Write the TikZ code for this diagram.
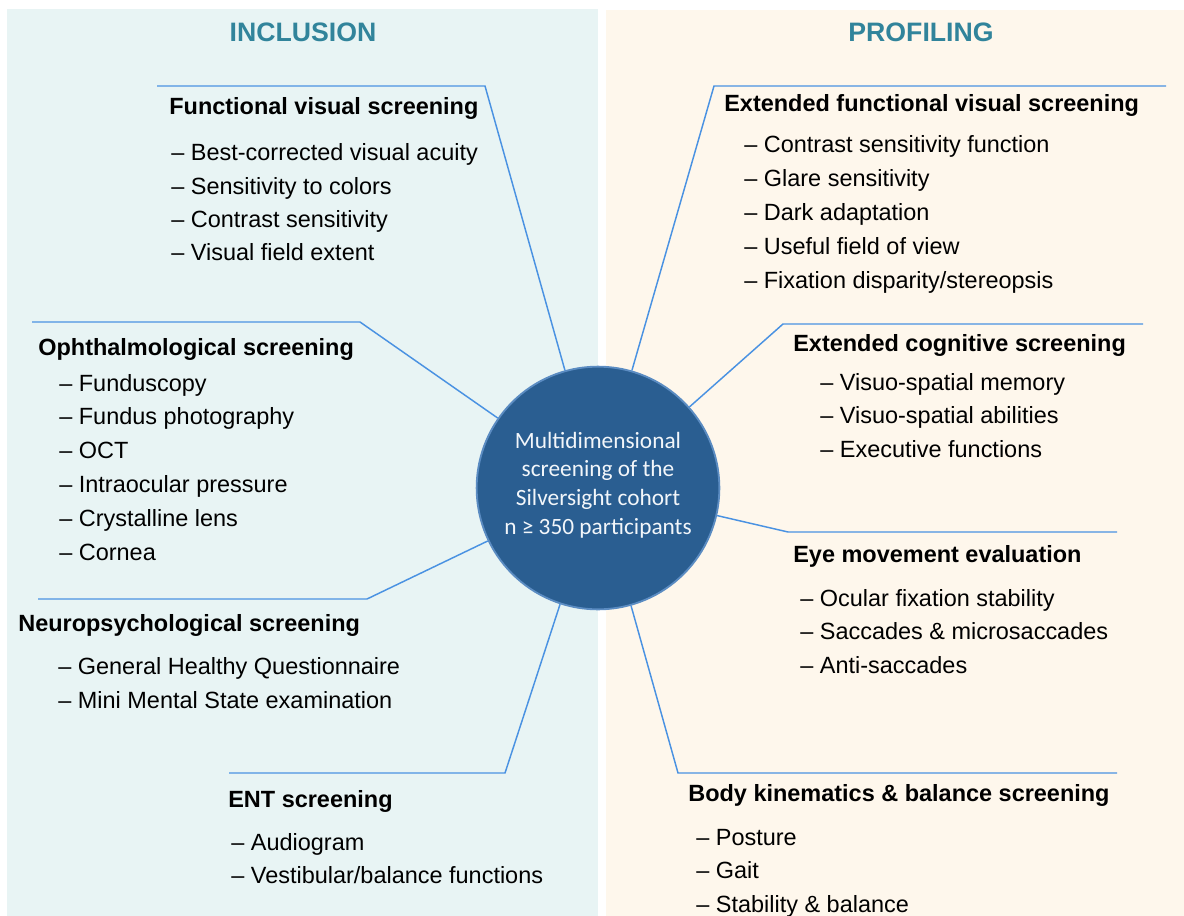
\documentclass[tikz,border=0pt]{standalone}
\usepackage{fontspec}
\setmainfont{Liberation Sans}
\newfontfamily\hubfont{Carlito}
\definecolor{leftbg}{HTML}{E8F4F4}
\definecolor{rightbg}{HTML}{FEF7EC}
\definecolor{titleblue}{HTML}{31849B}
\definecolor{linkblue}{HTML}{4A92E2}
\definecolor{hubblue}{HTML}{2A5E91}
\definecolor{hubedge}{HTML}{5B8CC2}
\definecolor{hubtext}{HTML}{F2F6FA}

\begin{document}
\begin{tikzpicture}[x=0.75pt,y=-0.75pt,line width=0.5pt,
	head/.style={anchor=base west,inner sep=0,font=\fontsize{17.6}{20}\selectfont\bfseries},
	item/.style={anchor=base west,inner sep=0,font=\fontsize{17.6}{20}\selectfont},
	title/.style={inner sep=0,font=\fontsize{20}{24}\selectfont\bfseries,text=titleblue},
	hub/.style={circle,fill=hubblue,draw=hubedge,line width=1.4pt,minimum size=182pt,inner sep=0},
	hubtxt/.style={inner sep=0,text=hubtext,align=center,font=\hubfont\fontsize{17.5}{21.4}\selectfont},
	link/.style={draw=linkblue,line width=1.1pt}]
\useasboundingbox (0,0) rectangle (1184,916);
\fill[white] (0,0) rectangle (1184,916);
\fill[leftbg] (7,9) rectangle (598,916);
\fill[rightbg] (606,10) rectangle (1184,916);

\node[title] (incl) at (303,32) {INCLUSION};
\node[title] (prof) at (921,32) {PROFILING};

% elbows and free ends of the branches
\coordinate (fvk) at (485,86);   \coordinate (fve) at (157,86);
\coordinate (ophk) at (360,322); \coordinate (ophe) at (32,322);
\coordinate (neuk) at (367,599); \coordinate (neue) at (38,599);
\coordinate (entk) at (505,773); \coordinate (ente) at (229,773);
\coordinate (efvk) at (714,86);  \coordinate (efve) at (1166,86);
\coordinate (cogk) at (783,324); \coordinate (coge) at (1143,324);
\coordinate (eyek) at (788,532); \coordinate (eyee) at (1117,532);
\coordinate (bodk) at (678,773); \coordinate (bode) at (1117,773);

\node[hub] (hub) at (598,488) {};
\node[hubtxt] (hubt) at (598,485) {Multidimensional\\screening of the\\Silversight cohort\\n ≥ 350 participants};

\foreach \k in {fv,oph,neu,ent,efv,cog,eye,bod}
	\draw[link] (hub) -- (\k k) -- (\k e);

% inclusion
\node[head] (fv) at (169,115) {Functional visual screening};
\foreach \t [count=\k] in {Best-corrected visual acuity,Sensitivity to colors,Contrast sensitivity,Visual field extent}
	\node[item] (fv\k) at (171,127.7+\k*33.3) {– \t};

\node[head] (oph) at (38,355) {Ophthalmological screening};
\foreach \t [count=\k] in {Funduscopy,Fundus photography,OCT,Intraocular pressure,Crystalline lens,Cornea}
	\node[item] (oph\k) at (59,357.2+\k*33.8) {– \t};

\node[head] (neu) at (18,631) {Neuropsychological screening};
\foreach \t [count=\k] in {General Healthy Questionnaire,Mini Mental State examination}
	\node[item] (neu\k) at (58,640+\k*34) {– \t};

\node[head] (ent) at (228,807) {ENT screening};
\foreach \t [count=\k] in {Audiogram,Vestibular/balance functions}
	\node[item] (ent\k) at (231,817+\k*33) {– \t};

% profiling
\node[head] (efv) at (724,112) {Extended functional visual screening};
\foreach \t [count=\k] in {Contrast sensitivity function,Glare sensitivity,Dark adaptation,Useful field of view,Fixation disparity/stereopsis}
	\node[item] (efv\k) at (744,119.25+\k*33.75) {– \t};

\node[head] (cog) at (793,351) {Extended cognitive screening};
\foreach \t [count=\k] in {Visuo-spatial memory,Visuo-spatial abilities,Executive functions}
	\node[item] (cog\k) at (820,356.5+\k*33.5) {– \t};

\node[head] (eye) at (793,562) {Eye movement evaluation};
\foreach \t [count=\k] in {Ocular fixation stability,Saccades \& microsaccades,Anti-saccades}
	\node[item] (eye\k) at (800,572.5+\k*33.5) {– \t};

\node[head] (bod) at (688,801) {Body kinematics \& balance screening};
\foreach \t [count=\k] in {Posture,Gait,Stability \& balance}
	\node[item] (bod\k) at (696,811.5+\k*33.5) {– \t};

\end{tikzpicture}
\end{document}
